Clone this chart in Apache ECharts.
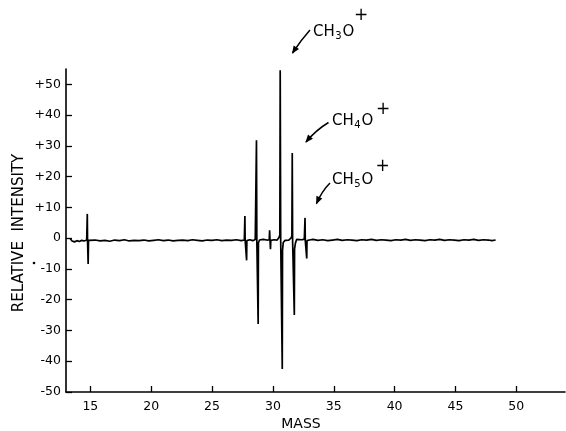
<!DOCTYPE html>
<html><head><meta charset="utf-8">
<script src="https://cdn.jsdelivr.net/npm/echarts@6/dist/echarts.min.js"></script>
<style>html,body{margin:0;padding:0;background:#fff}#c{width:566px;height:431px}</style>
</head><body><div id="c"></div>
<script>
// ---- data ----
const massTicks = [15, 20, 25, 30, 35, 40, 45, 50];
const intensityTicks = [-50, -40, -30, -20, -10, 0, 10, 20, 30, 40, 50];

const mass = [
  13.35, 13.5, 13.7, 13.9, 14.1, 14.3, 14.5, 14.7, 14.75, 14.77, 14.82, 14.85,
  15.0, 15.4, 15.8, 16.2, 16.6, 17.0, 17.4, 17.8, 18.2, 18.6, 19.0, 19.4, 19.8, 20.2, 20.6,
  21.0, 21.4, 21.8, 22.2, 22.6, 23.0, 23.4, 23.8, 24.2, 24.6, 25.0, 25.4, 25.8, 26.2, 26.6,
  27.0, 27.4, 27.65, 27.70, 27.72, 27.84, 27.86,
  28.1, 28.35, 28.55, 28.62, 28.65, 28.68, 28.79, 28.81, 28.9,
  29.2, 29.5, 29.7, 29.73, 29.76, 29.80, 29.83,
  30.1, 30.35, 30.5, 30.57, 30.60, 30.64, 30.77, 30.79, 30.85,
  31.0, 31.3, 31.5, 31.56, 31.59, 31.62, 31.76, 31.78, 31.85, 31.95,
  32.1, 32.4, 32.58, 32.64, 32.66, 32.78, 32.8, 33.0,
  33.3, 33.7, 34.1, 34.5, 34.9, 35.3, 35.7, 36.1, 36.5, 36.9, 37.3, 37.7, 38.1, 38.5, 38.9,
  39.3, 39.7, 40.1, 40.5, 40.9, 41.3, 41.7, 42.1, 42.5, 42.9, 43.3, 43.7, 44.1, 44.5, 44.9,
  45.3, 45.7, 46.1, 46.5, 46.9, 47.3, 47.7, 48.0, 48.3
];
const intensity = [
  -0.2, -0.9, -1.2, -0.8, -1.1, -0.7, -0.9, -0.6, 7.9, -0.8, -8.4, -0.7,
  -1.0, -0.6, -0.9, -0.7, -1.0, -0.6, -0.8, -0.5, -0.9, -0.7, -0.8, -0.6, -0.9, -0.7, -0.5,
  -0.8, -0.6, -0.9, -0.7, -0.6, -0.8, -0.5, -0.7, -0.9, -0.6, -0.7, -0.5, -0.8, -0.6, -0.7,
  -0.5, -0.8, -0.6, 7.2, -0.6, -7.2, -0.8,
  -0.5, -0.8, -0.4, -0.2, 31.8, -0.8, -27.9, -1.5, -0.6,
  -0.4, -0.6, -0.5, 2.6, -0.5, -3.6, -0.7,
  -0.5, -0.6, 0.2, 1.0, 54.6, -0.4, -42.5, -4.0, -1.4,
  -0.7, -0.6, 0.1, 0.8, 27.7, -0.9, -25.0, -3.5, -1.6, -0.4,
  -0.8, -0.5, -0.3, 6.6, -0.7, -6.6, -0.8, -0.6,
  -0.4, -0.7, -0.5, -0.8, -0.6, -0.4, -0.7, -0.5, -0.6, -0.8, -0.5, -0.6, -0.4, -0.7, -0.5,
  -0.6, -0.8, -0.5, -0.6, -0.4, -0.7, -0.5, -0.6, -0.8, -0.5, -0.6, -0.4, -0.7, -0.5, -0.6,
  -0.8, -0.5, -0.6, -0.4, -0.7, -0.5, -0.6, -0.8, -0.6
];

const ionLabels = [
  { main1: 'CH', sub: '3', main2: 'O', charge: '+' },
  { main1: 'CH', sub: '4', main2: 'O', charge: '+' },
  { main1: 'CH', sub: '5', main2: 'O', charge: '+' }
];

// ---- layout / style ----
const FONT = '"DejaVu Sans", "Liberation Sans", sans-serif';
const chart = echarts.init(document.getElementById('c'), null, { renderer: 'canvas' });

const mctx = document.createElement('canvas').getContext('2d');
function tw(t, fs) { mctx.font = fs + 'px ' + FONT; return mctx.measureText(t).width; }

const labelPos = [
  { x: 313, y: 32, px: 361, py: 16, a: [310, 30, 301, 40, 292.5, 53] },
  { x: 332, y: 121.5, px: 383, py: 110, a: [328.5, 122.5, 316, 130, 306, 142] },
  { x: 332, y: 180, px: 382.5, py: 167, a: [330, 183, 322, 191, 316.5, 203.5] }
];
const graphics = [];
ionLabels.forEach((L, i) => {
  const p = labelPos[i];
  const fs = 15, sfs = 10;
  let x = p.x;
  graphics.push({ type: 'text', x: x, y: p.y, style: { text: L.main1, font: fs + 'px ' + FONT, fill: '#000', align: 'left', verticalAlign: 'middle' } });
  x += tw(L.main1, fs) + 0.5;
  graphics.push({ type: 'text', x: x, y: p.y + 4, style: { text: L.sub, font: sfs + 'px ' + FONT, fill: '#000', align: 'left', verticalAlign: 'middle' } });
  x += tw(L.sub, sfs) + 1;
  graphics.push({ type: 'text', x: x, y: p.y, style: { text: L.main2, font: fs + 'px ' + FONT, fill: '#000', align: 'left', verticalAlign: 'middle' } });
  graphics.push({ type: 'text', x: p.px, y: p.py, style: { text: L.charge, font: '17px ' + FONT, fill: '#000', align: 'center', verticalAlign: 'middle' } });
  const [x1, y1, cx, cy, x2, y2] = p.a;
  graphics.push({ type: 'bezierCurve', shape: { x1, y1, cpx1: cx, cpy1: cy, x2, y2 }, style: { stroke: '#000', lineWidth: 1.5, fill: null } });
  let dx = x2 - cx, dy = y2 - cy; const d = Math.hypot(dx, dy); dx /= d; dy /= d;
  const hl = 7, hw = 3.2;
  const bx = x2 - dx * hl, by = y2 - dy * hl;
  graphics.push({ type: 'polygon', shape: { points: [[x2 + dx, y2 + dy], [bx - dy * hw, by + dx * hw], [bx + dy * hw, by - dx * hw]] }, style: { fill: '#000' } });
});
graphics.push({ type: 'text', x: 19, y: 233, rotation: Math.PI / 2, style: { text: 'RELATIVE  INTENSITY', font: '15px ' + FONT, fill: '#000', align: 'center', verticalAlign: 'middle' } });
graphics.push({ type: 'text', x: 301, y: 424, style: { text: 'MASS', font: '14px ' + FONT, fill: '#000', align: 'center', verticalAlign: 'middle' } });
graphics.push({ type: 'circle', shape: { cx: 34, cy: 263, r: 1.3 }, style: { fill: '#000' } });

chart.setOption({
  animation: false,
  backgroundColor: '#fff',
  grid: { left: 66, right: 1, top: 69, bottom: 39, containLabel: false },
  xAxis: {
    type: 'value', min: 13, max: 54,
    axisLine: { show: true, onZero: false, lineStyle: { color: '#000', width: 1.6 } },
    axisTick: { show: true, inside: true, length: 6, customValues: massTicks, lineStyle: { color: '#000', width: 1.3 } },
    axisLabel: { customValues: massTicks, color: '#000', fontSize: 12.5, fontFamily: FONT, margin: 8 },
    splitLine: { show: false }
  },
  yAxis: {
    type: 'value', min: -50, max: 55,
    axisLine: { show: true, onZero: false, lineStyle: { color: '#000', width: 1.6 } },
    axisTick: { show: true, inside: true, length: 6, customValues: intensityTicks, lineStyle: { color: '#000', width: 1.3 } },
    axisLabel: { customValues: intensityTicks, color: '#000', fontSize: 12.5, fontFamily: FONT, margin: 5,
      formatter: v => (v > 0 ? '+' + v : String(v)) },
    splitLine: { show: false }
  },
  series: [{
    type: 'line',
    data: mass.map((m, i) => [m, intensity[i]]),
    showSymbol: false,
    lineStyle: { color: '#000', width: 1.7 },
    clip: false
  }],
  graphic: graphics
});
</script>
</body></html>
